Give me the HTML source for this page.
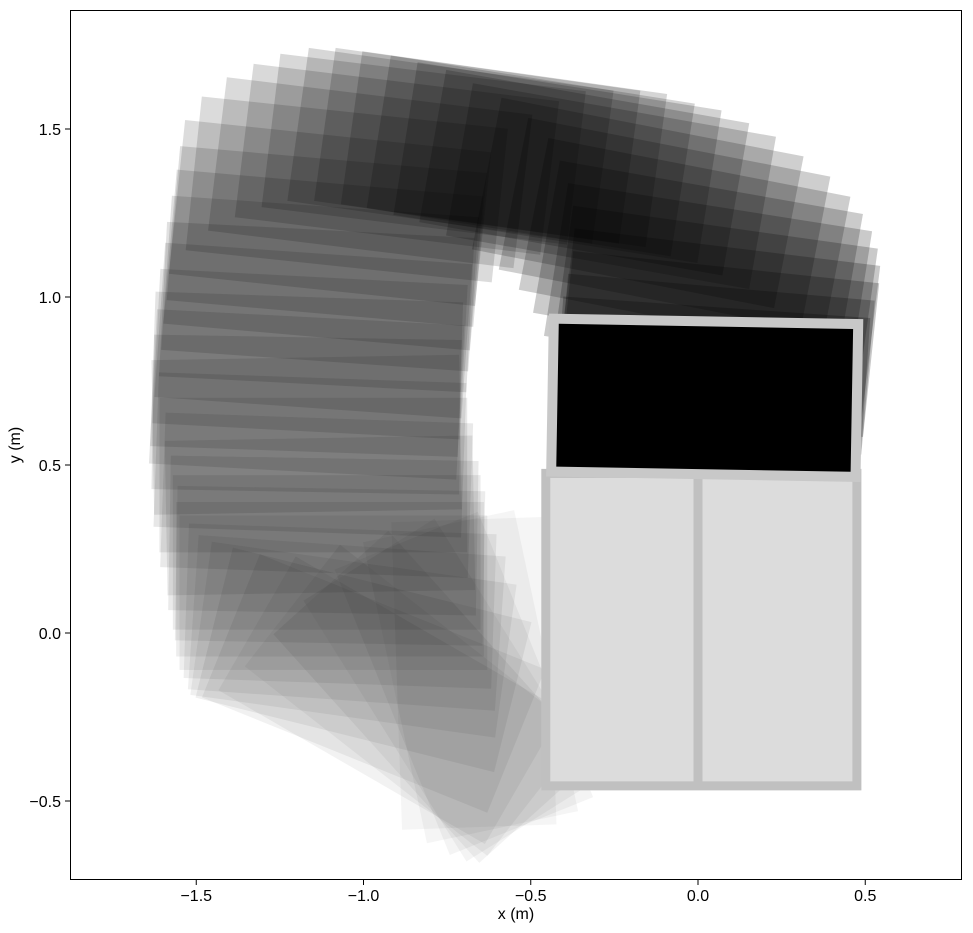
<!DOCTYPE html>
<html><head><meta charset="utf-8">
<style>
html,body{margin:0;padding:0;background:#fff;}
svg text{font-family:"Liberation Sans",sans-serif;}
</style></head>
<body>
<svg id="chart" width="973" height="928" viewBox="0 0 973 928" xmlns="http://www.w3.org/2000/svg">
<defs><clipPath id="plotclip"><rect x="70" y="10" width="892" height="870"/></clipPath></defs>
<rect x="0" y="0" width="973" height="928" fill="#fff"/>
<g id="marks" clip-path="url(#plotclip)"></g>
<g id="axes"></g>
</svg>
<script>
// pose data: x (m), y (m), heading (deg)
const poseX = [-0.67,-0.68,-0.70,-0.74,-0.79,-0.85,-0.92,-0.97,-1.00,-1.03,-1.05,-1.07,-1.09,-1.10,-1.10,-1.11,
  -1.12,-1.13,-1.14,-1.15,-1.16,-1.17,-1.17,-1.17,-1.17,-1.16,-1.15,-1.14,-1.13,-1.12,-1.11,-1.10,
  -1.05,-0.98,-0.90,-0.82,-0.74,-0.66,-0.58,-0.50,-0.42,-0.34,-0.26,-0.18,-0.10,-0.04,0.00,0.03,0.05,0.06,0.06,0.05,0.04];
const poseY = [-0.12,-0.13,-0.15,-0.17,-0.19,-0.20,-0.20,-0.15,-0.08,-0.02,0.03,0.08,0.12,0.16,0.20,0.24,
  0.29,0.35,0.41,0.47,0.53,0.59,0.65,0.71,0.77,0.83,0.90,0.97,1.04,1.11,1.18,1.25,
  1.32,1.37,1.41,1.44,1.45,1.45,1.44,1.42,1.40,1.37,1.33,1.28,1.22,1.16,1.10,1.04,0.98,0.92,0.86,0.80,0.74];
const poseA = [-88,-78,-68,-58,-48,-38,-30,-22,-14,-8,-4,-2,0,0,-1,0,
  -1,1,-2,0,-2,1,-1,-3,-2,-3,-4,-3,-4,-5,-5,-6,
  -6,-7,-7,-7,-8,-8,-8,-9,-9,-10,-10,-11,-11,-11,-10,-9,-8,-7,-6,-5,-4];
const xTicks = [-1.5,-1.0,-0.5,0.0,0.5];
const yTicks = [-0.5,0.0,0.5,1.0,1.5];
const finalPose = [0.02,0.70,-1];

const NS="http://www.w3.org/2000/svg";
const X0=698, KX=334.5, Y0=633, KY=336;
function sx(v){return X0+v*KX;}
function sy(v){return Y0-v*KY;}
const W=0.92, H=0.46;
const marks=document.getElementById('marks');
function mk(tag,attrs,parent){const e=document.createElementNS(NS,tag);for(const k in attrs)e.setAttribute(k,attrs[k]);parent.appendChild(e);return e;}

const n=poseX.length;
for(let i=0;i<n;i++){
  const r=mk('rect',{x:sx(poseX[i])-W*KX/2,y:sy(poseY[i])-H*KY/2,width:W*KX,height:H*KY,
    fill:'#000','fill-opacity':(0.04+0.19*Math.pow(i/(n-1),1.3)).toFixed(3),
    transform:`rotate(${-poseA[i]} ${sx(poseX[i])} ${sy(poseY[i])})`},marks);
  
  
}
// obstacle box
const ob=mk('g',{},marks);


mk('rect',{x:sx(-0.455),y:sy(0.475),width:0.93*KX,height:0.93*KY,fill:'#dcdcdc',stroke:'#c0c0c0','stroke-width':9},ob);
mk('line',{x1:sx(0.0),y1:sy(0.475),x2:sx(0.0),y2:sy(-0.455),stroke:'#c0c0c0','stroke-width':9},ob);
// final pose
const fp=mk('rect',{x:sx(finalPose[0])-0.91*KX/2,y:sy(finalPose[1])-0.455*KY/2,width:0.91*KX,height:0.455*KY,
  fill:'#000',stroke:'#c8c8c8','stroke-width':10,
  transform:`rotate(${-finalPose[2]} ${sx(finalPose[0])} ${sy(finalPose[1])})`},marks);



// axes
const ax=document.getElementById('axes');
const frame=mk('rect',{x:70.5,y:10.5,width:891,height:869,fill:'none',stroke:'#000','stroke-width':1},ax);


xTicks.forEach(v=>{
  const x=sx(v);
  mk('line',{x1:x,y1:880,x2:x,y2:885,stroke:'#000'},ax);
  const t=mk('text',{x:x,y:901,'font-size':16,'text-anchor':'middle'},ax);
  t.textContent=(v<0?'\u2212':'')+Math.abs(v).toFixed(1);
  
  
});
yTicks.forEach(v=>{
  const y=sy(v);
  mk('line',{x1:65,y1:y,x2:70,y2:y,stroke:'#000'},ax);
  const t=mk('text',{x:61,y:y+6,'font-size':16,'text-anchor':'end'},ax);
  t.textContent=(v<0?'\u2212':'')+Math.abs(v).toFixed(1);
  
  
});
const xl=mk('text',{x:516,y:919,'font-size':16,'text-anchor':'middle'},ax);
xl.textContent='x (m)';


const yl=mk('text',{x:20,y:445,'font-size':16,'text-anchor':'middle',transform:'rotate(-90 20 445)'},ax);
yl.textContent='y (m)';


</script>
</body></html>
